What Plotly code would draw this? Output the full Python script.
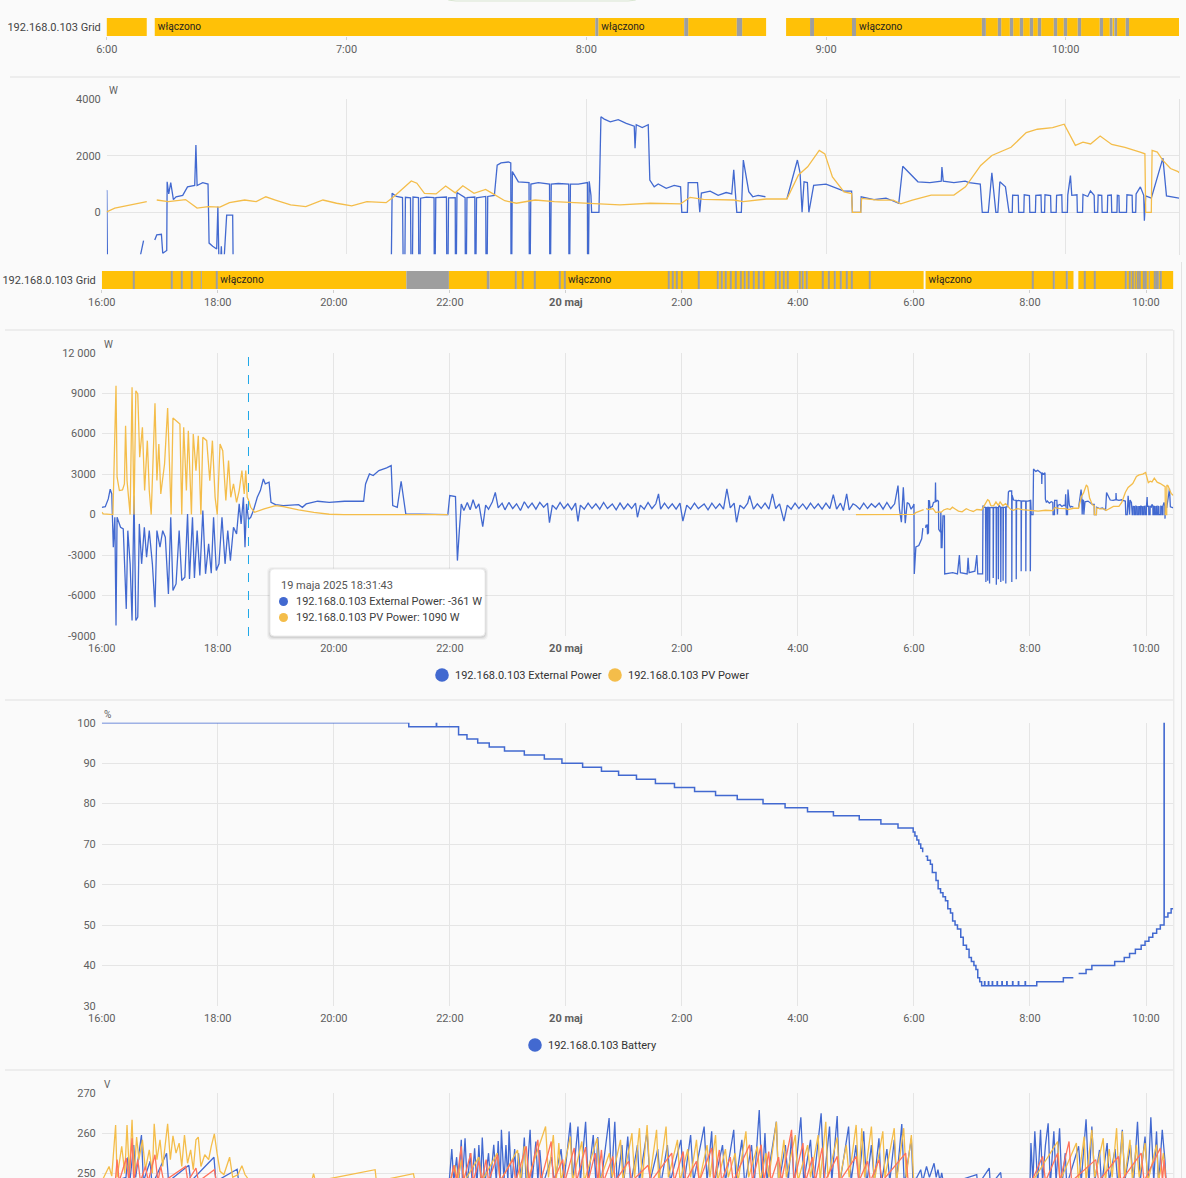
import pandas as pd
import plotly.graph_objects as go

# ---------------------------------------------------------------- data
GRID_NAME = "192.168.0.103 Grid"
EXT_NAME = "192.168.0.103 External Power"
PV_NAME = "192.168.0.103 PV Power"
BAT_NAME = "192.168.0.103 Battery"
STATE_TEXT = {"on": "włączono", "off": "wyłączono"}

NOW = "10:28:20"
HOVER = "18:31:43"
HOVER_LABEL = "19 maja 2025 18:31:43"

# grid switch: (time, state) changes, last one lasts until NOW
grid_states = [
    ("16:00:00", "on"), ("16:32:30", "off"), ("16:33:20", "on"),
    ("17:12:20", "off"), ("17:13:00", "on"), ("17:22:40", "off"), ("17:23:20", "on"),
    ("17:33:00", "off"), ("17:33:40", "on"), ("17:42:40", "off"), ("17:43:20", "on"),
    ("17:58:50", "off"), ("17:59:30", "on"),
    ("21:15:00", "off"), ("21:59:00", "on"),
    ("22:39:00", "off"), ("22:41:00", "on"), ("23:08:00", "off"), ("23:09:00", "on"),
    ("23:15:00", "off"), ("23:16:00", "on"), ("23:27:00", "off"), ("23:28:00", "on"),
    ("23:53:00", "off"), ("23:54:00", "on"), ("23:58:00", "off"), ("23:59:00", "on"),
    ("01:46:00", "off"), ("01:47:00", "on"), ("01:50:00", "off"), ("01:51:00", "on"),
    ("01:54:00", "off"), ("01:55:00", "on"), ("01:59:00", "off"), ("02:00:00", "on"),
    ("02:17:00", "off"), ("02:18:00", "on"),
    ("02:37:00", "off"), ("02:38:00", "on"), ("02:41:00", "off"), ("02:42:00", "on"),
    ("02:45:00", "off"), ("02:46:00", "on"), ("02:50:00", "off"), ("02:51:00", "on"),
    ("02:55:00", "off"), ("02:56:00", "on"), ("03:00:00", "off"), ("03:01:00", "on"),
    ("03:05:00", "off"), ("03:06:00", "on"), ("03:09:00", "off"), ("03:10:00", "on"),
    ("03:14:00", "off"), ("03:15:00", "on"), ("03:19:00", "off"), ("03:20:00", "on"),
    ("03:24:00", "off"), ("03:25:00", "on"),
    ("03:37:00", "off"), ("03:38:00", "on"), ("03:41:00", "off"), ("03:42:00", "on"),
    ("03:45:00", "off"), ("03:46:00", "on"), ("03:49:00", "off"), ("03:50:00", "on"),
    ("04:01:00", "off"), ("04:02:00", "on"), ("04:05:00", "off"), ("04:06:00", "on"),
    ("04:09:00", "off"), ("04:10:00", "on"),
    ("04:25:00", "off"), ("04:26:00", "on"), ("04:31:00", "off"), ("04:32:00", "on"),
    ("04:38:00", "off"), ("04:39:00", "on"), ("04:44:00", "off"), ("04:45:00", "on"),
    ("04:50:00", "off"), ("04:51:00", "on"), ("04:55:00", "off"), ("04:56:00", "on"),
    ("05:14:00", "off"), ("05:15:00", "on"),
    ("06:10:00", "unavailable"), ("06:12:00", "on"),
    ("08:02:15", "off"), ("08:03:00", "on"), ("08:24:30", "off"), ("08:25:30", "on"),
    ("08:37:40", "off"), ("08:39:00", "on"), ("08:45:00", "unavailable"), ("08:50:00", "on"),
    ("08:56:00", "off"), ("08:57:00", "on"), ("09:06:30", "off"), ("09:07:30", "on"),
    ("09:39:00", "off"), ("09:40:00", "on"), ("09:43:00", "off"), ("09:43:50", "on"),
    ("09:46:00", "off"), ("09:46:50", "on"), ("09:48:30", "off"), ("09:49:20", "on"),
    ("09:51:00", "off"), ("09:51:50", "on"), ("09:53:00", "off"), ("09:53:50", "on"),
    ("09:57:00", "off"), ("09:57:50", "on"), ("09:59:30", "off"), ("10:00:20", "on"),
    ("10:03:00", "off"), ("10:03:50", "on"), ("10:08:30", "off"), ("10:09:20", "on"),
    ("10:11:00", "off"), ("10:11:40", "on"), ("10:12:10", "off"), ("10:12:50", "on"),
    ("10:15:00", "off"), ("10:15:50", "on"),
]

# external power, W
ext_power = [
    ("16:00:00", 540), ("16:03:36", 590), ("16:06:42", 1160), ("16:08:42", 1880),
    ("16:10:18", 1530), ("16:11:54", -2420), ("16:13:30", -200), ("16:14:42", -8220),
    ("16:15:48", -200), ("16:19:24", -940), ("16:22:12", -1060), ("16:25:18", -6990),
    ("16:26:54", -1190), ("16:29:18", -3650), ("16:31:18", -7850), ("16:33:18", 1410),
    ("16:35:12", -7850), ("16:37:12", -7600), ("16:38:48", -690), ("16:41:12", -3650),
    ("16:44:00", -940), ("16:46:18", -3160), ("16:49:06", -1190), ("16:52:18", -3650),
    ("16:55:00", -6860), ("16:57:00", -1190), ("17:00:12", -2420), ("17:03:00", -1190),
    ("17:05:42", -1680), ("17:08:54", -5880), ("17:11:18", -200), ("17:13:36", -5630),
    ("17:16:48", -5140), ("17:20:00", -1190), ("17:22:42", -4890), ("17:25:54", -4640),
    ("17:28:42", 50), ("17:30:42", -4770), ("17:33:48", -200), ("17:35:48", -4690),
    ("17:38:36", -1190), ("17:41:24", -4520), ("17:44:30", 300), ("17:47:18", -4390),
    ("17:50:30", -2170), ("17:53:12", -4350), ("17:55:36", -200), ("17:58:24", -4150),
    ("18:01:12", -3650), ("18:04:18", -200), ("18:07:30", -3650), ("18:10:18", -1190),
    ("18:13:00", -3410), ("18:16:12", -940), ("18:19:24", -1430), ("18:22:06", 790),
    ("18:24:06", -690), ("18:26:30", 1280), ("18:28:06", -2420), ("18:29:42", 790),
    ("18:31:43", -361), ("18:34:00", -200), ("18:36:48", 300), ("18:40:48", 1280),
    ("18:44:00", 1780), ("18:47:06", 2640), ("18:49:06", 2270), ("18:53:00", 2400),
    ("18:55:00", 910), ("18:59:42", 740), ("19:07:42", 670), ("19:23:30", 740),
    ("19:27:30", 540), ("19:31:24", 790), ("19:43:18", 990), ("19:55:12", 910),
    ("20:11:00", 990), ("20:30:48", 990), ("20:32:48", 2270), ("20:36:48", 3010),
    ("20:40:42", 2890), ("20:46:36", 3260), ("20:54:36", 3460), ("20:59:18", 3630),
    ("21:00:54", 670), ("21:05:36", 540), ("21:09:36", 2470), ("21:12:24", 790),
    ("21:14:24", 50), ("21:57:54", 0), ("21:59:54", 1410), ("22:05:48", 1330),
    ("22:07:48", -3410), ("22:09:48", -1190), ("22:11:48", 790), ("22:14:30", 300),
    ("22:18:00", 900), ("22:21:00", 350), ("22:24:00", 1100), ("22:27:00", 450),
    ("22:30:00", 800), ("22:34:00", -900), ("22:37:00", 700), ("22:40:00", 400),
    ("22:44:00", 950), ("22:47:00", 1650), ("22:50:00", 500), ("22:54:00", 850),
    ("22:57:00", 350), ("23:01:00", 900), ("23:05:00", 450), ("23:09:00", 800),
    ("23:13:00", 300), ("23:17:00", 950), ("23:21:00", 500), ("23:25:00", 850),
    ("23:29:00", 400), ("23:33:00", 900), ("23:37:00", 550), ("23:41:00", 850),
    ("23:43:00", -600), ("23:46:00", 700), ("23:50:00", 400), ("23:54:00", 900),
    ("23:58:00", 450), ("00:02:00", 800), ("00:06:00", 350), ("00:10:00", 850),
    ("00:12:30", -500), ("00:15:00", 700), ("00:19:00", 400), ("00:23:00", 850),
    ("00:27:00", 450), ("00:31:00", 800), ("00:35:00", 400), ("00:39:00", 900),
    ("00:43:00", 450), ("00:48:00", 790), ("00:52:00", 350), ("00:56:00", 850),
    ("01:00:00", 400), ("01:04:00", 800), ("01:08:00", 450), ("01:12:00", 850),
    ("01:14:00", -200), ("01:17:00", 700), ("01:21:00", 400), ("01:25:00", 900),
    ("01:29:00", 450), ("01:33:00", 800), ("01:35:48", 1530), ("01:38:00", 400),
    ("01:42:00", 850), ("01:46:00", 450), ("01:50:00", 800), ("01:54:00", 400),
    ("01:58:00", 850), ("02:01:00", -490), ("02:05:00", 700), ("02:09:00", 400),
    ("02:13:00", 850), ("02:17:00", 450), ("02:23:00", 790), ("02:27:00", 350),
    ("02:31:00", 850), ("02:35:00", 450), ("02:39:00", 800), ("02:43:00", 400),
    ("02:46:30", 1900), ("02:50:00", 500), ("02:54:00", 850), ("02:56:30", -570),
    ("03:00:00", 700), ("03:04:00", 450), ("03:08:00", 850), ("03:10:00", 1410),
    ("03:14:00", 400), ("03:18:00", 800), ("03:22:00", 450), ("03:26:00", 850),
    ("03:30:00", 400), ("03:33:40", 1530), ("03:37:00", 450), ("03:41:00", 800),
    ("03:45:30", -490), ("03:49:00", 700), ("03:53:00", 400), ("03:57:00", 850),
    ("04:01:00", 450), ("04:05:00", 790), ("04:09:00", 400), ("04:13:00", 850),
    ("04:17:00", 450), ("04:21:00", 800), ("04:25:00", 400), ("04:29:00", 850),
    ("04:33:00", 450), ("04:36:36", 1480), ("04:40:00", 400), ("04:44:00", 850),
    ("04:47:00", 300), ("04:50:24", 1530), ("04:53:00", 350), ("04:57:00", 800),
    ("05:00:00", 670), ("05:04:00", 400), ("05:08:00", 850), ("05:12:00", 450),
    ("05:16:00", 800), ("05:20:00", 540), ("05:24:00", 850), ("05:28:00", 400),
    ("05:32:00", 900), ("05:36:00", 450), ("05:40:00", 800), ("05:43:30", 2150),
    ("05:45:00", 400), ("05:47:00", -570), ("05:49:00", 2020), ("05:51:00", -640),
    ("05:53:00", 900), ("05:55:00", 790), ("05:57:00", 400), ("05:59:00", 600),
    ("06:00:00", 780), ("06:00:20", -4400), ("06:02:00", -2400), ("06:05:00", -2300),
    ("06:08:00", -1800), ("06:09:12", -1000), ("06:10:00", None), ("06:12:00", -980),
    ("06:12:30", -800), ("06:13:40", -780), ("06:14:00", -1450), ("06:15:00", -1350),
    ("06:15:06", 1080), ("06:15:30", 650), ("06:16:00", 1050), ("06:16:40", 450),
    ("06:17:20", 550), ("06:19:00", 600), ("06:20:12", 900), ("06:22:00", 950),
    ("06:22:18", 2380), ("06:22:36", 950), ("06:24:00", 1050), ("06:25:20", 1000),
    ("06:25:36", -1090), ("06:26:30", -1200), ("06:27:30", -1300), ("06:27:48", 200),
    ("06:28:10", -2500), ("06:28:40", -1200), ("06:29:00", -2500), ("06:30:00", -100),
    ("06:31:30", -100), ("06:31:48", -4400), ("06:40:00", -4300), ("06:45:00", -4400),
    ("06:47:00", -3000), ("06:48:00", -4300), ("06:55:00", -4400), ("06:56:00", -3200),
    ("06:57:00", -4300), ("07:03:00", -4200), ("07:05:00", -3000), ("07:06:00", -4400),
    ("07:11:00", -4400), ("07:11:24", 670), ("07:12:30", 560), ("07:14:00", 520),
    ("07:14:24", -5000), ("07:14:44", 530), ("07:16:00", 510), ("07:16:18", -4900),
    ("07:16:38", 540), ("07:18:00", 520), ("07:18:12", -5100), ("07:18:32", 500),
    ("07:20:00", 540), ("07:21:54", 520), ("07:22:00", -4700), ("07:22:20", 520),
    ("07:25:00", 540), ("07:25:12", -5200), ("07:25:32", 510), ("07:27:12", 520),
    ("07:27:18", -4800), ("07:27:38", 700), ("07:29:40", 520), ("07:29:48", -5000),
    ("07:30:08", 520), ("07:32:06", 540), ("07:32:12", -4900), ("07:32:32", 510),
    ("07:34:50", 560), ("07:35:00", -5100), ("07:35:20", 560), ("07:37:00", 600),
    ("07:37:42", 1670), ("07:38:40", 1750), ("07:40:30", 1780), ("07:41:06", 1750),
    ("07:41:12", -5000), ("07:41:30", 1440), ("07:43:00", 1080), ("07:45:40", 1050),
    ("07:45:48", -4800), ("07:46:08", 1000), ("07:48:00", 1050), ("07:50:48", 1000),
    ("07:50:54", -4200), ("07:51:14", 1000), ("07:53:00", 1020), ("07:55:36", 1000),
    ("07:55:42", -4200), ("07:56:02", 1000), ("07:58:00", 1000), ("08:00:18", 1050),
    ("08:00:24", -4200), ("08:00:44", 1100), ("08:01:10", 600), ("08:01:20", 0),
    ("08:03:10", 0), ("08:03:40", 3380), ("08:04:30", 3300), ("08:06:00", 3200),
    ("08:08:00", 3280), ("08:10:00", 3150), ("08:12:00", 3050), ("08:12:12", 2270),
    ("08:12:30", 3100), ("08:14:00", 3000), ("08:15:30", 3100), ("08:15:54", 1140),
    ("08:17:00", 900), ("08:18:00", 1000), ("08:20:00", 850), ("08:22:00", 950),
    ("08:23:36", 900), ("08:23:54", 0), ("08:25:18", 0), ("08:25:30", 1050),
    ("08:27:50", 1050), ("08:28:00", 680), ("08:28:24", 0), ("08:28:48", 680),
    ("08:31:00", 750), ("08:33:00", 600), ("08:35:00", 700), ("08:36:24", 650),
    ("08:36:54", 1500), ("08:37:40", 0), ("08:38:48", 0), ("08:39:18", 1850),
    ("08:40:40", 730), ("08:41:40", 550), ("08:43:00", 600), ("08:44:50", 550),
    ("08:45:00", None), ("08:50:12", 470), ("08:52:50", 1850), ("08:53:30", 1400),
    ("08:54:00", 0), ("08:54:30", 1080), ("08:55:20", 1050), ("08:55:42", 0),
    ("08:56:54", 950), ("09:00:00", 1000), ("09:02:00", 900), ("09:04:30", 750),
    ("09:06:24", 750), ("09:06:36", 0), ("09:08:40", 0), ("09:08:48", 550),
    ("09:12:00", 450), ("09:15:00", 500), ("09:16:48", 400), ("09:18:12", 320),
    ("09:19:12", 1630), ("09:21:36", 1300), ("09:23:00", 1080), ("09:26:00", 1050),
    ("09:28:50", 1100), ("09:29:00", 1600), ("09:29:20", 1100), ("09:32:00", 1050),
    ("09:34:50", 1100), ("09:35:48", 1050), ("09:38:36", 1000), ("09:39:06", 0),
    ("09:40:36", 0), ("09:41:30", 1400), ("09:42:30", 0), ("09:43:00", 0),
    ("09:43:30", 1080), ("09:44:54", 900), ("09:45:48", 0), ("09:46:36", 0),
    ("09:46:42", 610), ("09:48:06", 600), ("09:48:12", 0), ("09:49:30", 0),
    ("09:49:36", 620), ("09:50:54", 590), ("09:51:00", 0), ("09:52:24", 0),
    ("09:52:30", 600), ("09:53:48", 610), ("09:53:54", 0), ("09:54:42", 0),
    ("09:54:48", 620), ("09:56:12", 590), ("09:56:18", 0), ("09:57:36", 0),
    ("09:57:42", 600), ("09:59:00", 620), ("09:59:06", 0), ("10:00:24", 0),
    ("10:00:30", 610), ("10:01:10", 1300), ("10:01:30", 600), ("10:02:48", 620),
    ("10:02:54", 0), ("10:04:12", 0), ("10:04:18", 630), ("10:05:30", 560),
    ("10:06:10", 760), ("10:07:06", 600), ("10:07:12", 0), ("10:08:00", 0),
    ("10:08:06", 610), ("10:09:00", 600), ("10:09:06", 0), ("10:10:24", 0),
    ("10:10:30", 600), ("10:11:24", 610), ("10:11:30", 0), ("10:12:48", 0),
    ("10:12:54", 600), ("10:13:18", 590), ("10:13:24", 0), ("10:15:12", 0),
    ("10:15:18", 620), ("10:16:36", 600), ("10:16:42", 0), ("10:17:30", 0),
    ("10:17:36", 650), ("10:18:40", 900), ("10:19:30", 600), ("10:19:40", -300),
    ("10:20:00", 580), ("10:21:24", 500), ("10:24:18", 1920), ("10:25:12", 580),
    ("10:27:00", 520), ("10:28:20", 500),
]

# PV power, W
pv_power = [
    ("16:00:00", 170), ("16:01:36", 50), ("16:11:30", 0), ("16:13:30", 6200),
    ("16:14:42", 9550), ("16:15:48", 2770), ("16:18:12", 1780), ("16:21:24", 1830),
    ("16:23:24", 2270), ("16:24:36", 6590), ("16:26:06", 2520), ("16:29:18", 0),
    ("16:31:18", 9430), ("16:33:18", 0), ("16:35:12", 9180), ("16:37:12", 8940),
    ("16:39:12", 4250), ("16:42:00", 6470), ("16:44:18", 1780), ("16:47:06", 5480),
    ("16:49:06", 1780), ("16:51:06", 0), ("16:53:06", 3750), ("16:55:00", 8250),
    ("16:57:00", 2520), ("16:59:00", 5230), ("17:01:00", 1530), ("17:04:54", 3750),
    ("17:08:06", 7900), ("17:09:42", 3750), ("17:11:42", 0), ("17:13:36", 7160),
    ("17:16:48", 6960), ("17:20:48", 6720), ("17:22:42", 0), ("17:24:42", 6470),
    ("17:27:30", 1780), ("17:29:30", 6220), ("17:32:42", 0), ("17:34:36", 5970),
    ("17:37:24", 3260), ("17:39:48", 5850), ("17:42:30", 0), ("17:44:30", 5730),
    ("17:48:30", 5480), ("17:51:42", 2520), ("17:54:24", 5480), ("17:57:12", 1280),
    ("17:59:24", 0), ("18:02:18", 5230), ("18:05:06", 4740), ("18:08:18", 1040),
    ("18:11:06", 4000), ("18:13:24", 1280), ("18:16:12", 2270), ("18:19:24", 910),
    ("18:22:06", 1780), ("18:24:54", 3260), ("18:27:18", 1530), ("18:28:54", 3260),
    ("18:30:24", 1280), ("18:31:43", 1090), ("18:34:00", 540), ("18:38:00", 170),
    ("18:47:54", 420), ("18:59:42", 670), ("19:07:42", 590), ("19:23:30", 350),
    ("19:39:18", 170), ("19:55:12", 25), ("20:10:00", 0), ("21:57:54", 0),
    ("22:00:00", None), ("05:00:00", 0), ("05:30:00", 10), ("05:55:00", 15),
    ("06:00:00", 20), ("06:02:00", 150), ("06:05:48", 260), ("06:10:00", 375),
    ("06:11:00", None), ("06:12:30", 435), ("06:15:24", 375), ("06:19:42", 450),
    ("06:22:36", 150), ("06:25:24", 200), ("06:28:18", 180), ("06:30:42", 340),
    ("06:34:30", 435), ("06:37:24", 375), ("06:39:48", 550), ("06:42:12", 435),
    ("06:46:00", 260), ("06:49:48", 200), ("06:54:06", 435), ("06:57:30", 320),
    ("07:01:18", 230), ("07:05:06", 375), ("07:09:54", 340), ("07:11:48", 550),
    ("07:13:48", 790), ("07:16:12", 1110), ("07:17:36", 1030), ("07:19:30", 670),
    ("07:22:24", 650), ("07:24:48", 930), ("07:27:12", 690), ("07:29:06", 940),
    ("07:31:54", 670), ("07:34:48", 810), ("07:36:42", 650), ("07:39:36", 410),
    ("07:42:30", 320), ("07:47:12", 435), ("07:52:00", 375), ("07:56:48", 340),
    ("08:00:48", 320), ("08:08:24", 260), ("08:16:00", 320), ("08:23:36", 300),
    ("08:26:00", 530), ("08:29:18", 460), ("08:36:54", 435), ("08:39:18", 375),
    ("08:45:00", 470), ("08:50:12", 470), ("08:53:06", 1320), ("08:55:24", 1610),
    ("08:58:18", 2190), ("08:59:42", 2070), ("09:01:36", 1250), ("09:04:30", 720),
    ("09:06:24", 660), ("09:06:36", 0), ("09:08:42", 0), ("09:08:54", 490),
    ("09:13:00", 430), ("09:16:48", 430), ("09:18:42", 300), ("09:21:36", 430),
    ("09:26:18", 610), ("09:32:00", 610), ("09:34:54", 900), ("09:38:42", 1660),
    ("09:41:30", 2010), ("09:46:18", 2300), ("09:50:06", 2820), ("09:52:54", 2940),
    ("09:56:42", 3000), ("09:59:36", 3120), ("10:02:24", 2370), ("10:04:18", 2480),
    ("10:06:12", 2420), ("10:08:36", 2700), ("10:11:30", 2400), ("10:14:48", 2300),
    ("10:18:36", 2130), ("10:19:48", 2070), ("10:20:00", 0), ("10:21:24", 0),
    ("10:21:36", 2190), ("10:22:54", 2130), ("10:24:18", 1840), ("10:26:12", 1550),
    ("10:28:06", 1440), ("10:28:20", 1400),
]

# battery state of charge, %
battery = [
    ("16:00:00", 100), ("21:17:30", 99), ("21:46:00", 100), ("21:46:20", 99),
    ("22:09:00", 97), ("22:17:42", 96), ("22:28:48", 95), ("22:40:42", 94),
    ("22:56:30", 93), ("23:17:00", 92), ("23:37:42", 91), ("23:55:54", 90),
    ("00:17:18", 89), ("00:36:48", 88), ("00:54:30", 87), ("01:13:00", 86),
    ("01:32:36", 85), ("01:52:18", 84), ("02:13:06", 83), ("02:34:48", 82),
    ("02:57:12", 81), ("03:23:54", 80), ("03:46:42", 79), ("04:09:54", 78),
    ("04:36:42", 77), ("05:03:24", 76), ("05:25:48", 75), ("05:43:30", 74),
    ("05:59:12", 73), ("06:01:00", 72), ("06:03:00", 71), ("06:05:00", 70),
    ("06:07:00", 69), ("06:09:00", 68), ("06:10:00", None), ("06:12:00", 67),
    ("06:14:00", 66), ("06:17:00", 65), ("06:19:00", 63), ("06:22:48", 61),
    ("06:25:00", 59), ("06:27:30", 58), ("06:30:00", 57), ("06:32:36", 56),
    ("06:35:00", 54), ("06:37:48", 53), ("06:40:00", 51), ("06:42:30", 50),
    ("06:45:00", 49), ("06:48:24", 47), ("06:51:00", 45), ("06:54:18", 44),
    ("06:57:00", 42), ("06:59:24", 41), ("07:02:00", 40), ("07:04:06", 39),
    ("07:06:00", 37), ("07:08:00", 36), ("07:10:00", 35),
    ("07:13:00", 36), ("07:13:20", 35), ("07:17:00", 36), ("07:17:20", 35),
    ("07:21:00", 36), ("07:21:20", 35), ("07:26:00", 36), ("07:26:20", 35),
    ("07:31:00", 36), ("07:31:20", 35), ("07:36:00", 36), ("07:36:20", 35),
    ("07:42:00", 36), ("07:42:20", 35), ("07:48:00", 36), ("07:48:20", 35),
    ("07:55:00", 36), ("07:55:20", 35),
    ("08:07:00", 36), ("08:34:30", 37), ("08:44:50", 37), ("08:45:00", None),
    ("08:50:18", 38), ("08:58:00", 39), ("09:04:00", 40), ("09:27:36", 41),
    ("09:37:30", 42), ("09:43:00", 43), ("09:49:00", 44), ("09:55:00", 45),
    ("09:59:00", 46), ("10:03:00", 47), ("10:07:00", 48), ("10:11:00", 49),
    ("10:14:48", 50), ("10:18:40", 51), ("10:18:42", 100), ("10:18:50", 52),
    ("10:22:40", 53), ("10:26:00", 54), ("10:28:20", 54),
]

# phase voltages, V
volt_l1 = [
    ("16:00", 247), ("16:25", 249), ("16:27", 254), ("16:29", 248), ("16:33", 257),
    ("16:35", 249), ("16:41", 259.5), ("16:43", 248), ("16:50", 253), ("16:52", 247),
    ("17:07", 255), ("17:09", 248), ("17:30", 252), ("17:32", 248), ("17:56", 254),
    ("17:58", 248), ("18:20", 251), ("18:22", 247), ("21:59", 247),
    ("22:02", 256), ("22:04", 248), ("22:07", 254), ("22:09", 247), ("22:11:48", 258.3),
    ("22:13", 248), ("22:15:42", 258.7), ("22:18", 247), ("22:21", 255), ("22:23", 248),
    ("22:25:36", 256.2), ("22:28", 247), ("22:30", 257), ("22:32", 248), ("22:33:30", 258.9),
    ("22:36", 247), ("22:40", 255), ("22:42", 248), ("22:45:24", 257.1), ("22:48", 248),
    ("22:50", 258), ("22:52", 247), ("22:53:18", 260.8), ("22:56", 248), ("22:58", 257),
    ("23:00", 248), ("23:01:12", 260.4), ("23:04", 247), ("23:07", 256), ("23:09", 248),
    ("23:11", 255), ("23:14", 248), ("23:17", 258.9), ("23:19", 247), ("23:23", 260.8),
    ("23:25", 248), ("23:29", 257.9), ("23:31", 248), ("23:33", 255.8), ("23:36", 247),
    ("23:45", 254), ("23:48", 248), ("23:55", 256), ("23:58", 248), ("00:04:36", 262.6),
    ("00:07", 248), ("00:12:30", 261.6), ("00:15", 248), ("00:20:24", 262.8), ("00:23", 248),
    ("00:28:18", 259.5), ("00:31", 248), ("00:33", 259), ("00:36", 247), ("00:44:42", 263.7),
    ("00:47", 248), ("00:50:36", 262.8), ("00:53", 247), ("00:58", 257), ("01:00", 248),
    ("01:04", 259.1), ("01:07", 247), ("01:14", 257), ("01:16", 248), ("01:24", 260.4),
    ("01:27", 248), ("01:35", 256), ("01:38", 247), ("01:45", 257), ("01:48", 248),
    ("01:59", 258.3), ("02:02", 247), ("02:09", 259.5), ("02:12", 248), ("02:23", 261.6),
    ("02:26", 248), ("02:30:48", 260.4), ("02:33", 247), ("02:42", 257), ("02:45", 248),
    ("02:53:36", 260.8), ("02:56", 248), ("03:02", 258.3), ("03:05", 247), ("03:12", 257),
    ("03:15", 248), ("03:20", 265.7), ("03:23", 247), ("03:25:54", 260), ("03:28", 248),
    ("03:37:42", 262.8), ("03:40", 247), ("03:47", 257), ("03:50", 248), ("03:53:24", 259.1),
    ("03:56", 247), ("04:03", 263.9), ("04:06", 248), ("04:13", 258.3), ("04:16", 247),
    ("04:24", 264.9), ("04:27", 248), ("04:32:42", 261.6), ("04:35", 248), ("04:40:36", 264.2),
    ("04:43", 247), ("04:52:24", 261.6), ("04:55", 248), ("05:00", 257), ("05:03", 248),
    ("05:08", 260.4), ("05:11", 247), ("05:16", 257), ("05:19", 248), ("05:23:48", 258.7),
    ("05:26", 247), ("05:32", 256), ("05:35", 248), ("05:39:36", 258.3), ("05:42", 248),
    ("05:47:24", 262.2), ("05:50", 247), ("05:57:18", 258.7), ("05:59", 248), ("06:03", 249),
    ("06:07", 250.9), ("06:09", 248), ("06:13", 251.7), ("06:16", 249), ("06:20:48", 252.5),
    ("06:23", 249), ("06:24:48", 250.9), ("06:27", 248), ("06:28:42", 250.1), ("06:31", 247),
    ("07:04:54", 249.7), ("07:06", 247), ("07:17:54", 251.3), ("07:19", 247),
    ("07:29:42", 250.2), ("07:31", 247), ("08:00", 247), ("08:01", 257.5), ("08:03", 248),
    ("08:05", 260.4), ("08:08", 247), ("08:10:54", 260.8), ("08:13", 248), ("08:16", 257),
    ("08:18:48", 262.4), ("08:21", 247), ("08:24:42", 260.4), ("08:27", 248),
    ("08:30:36", 261.2), ("08:33", 247), ("08:36:30", 255), ("08:38", 247),
    ("08:50:18", 256.7), ("08:53", 248), ("08:58", 263.4), ("09:01", 247), ("09:04", 261.6),
    ("09:07", 248), ("09:11:54", 255.8), ("09:14", 247), ("09:19:48", 257.5), ("09:22", 248),
    ("09:28", 256), ("09:31", 247), ("09:35:30", 260.8), ("09:38", 248), ("09:44", 257),
    ("09:47", 247), ("09:51:12", 262.8), ("09:54", 248), ("09:59", 259.1), ("10:02", 247),
    ("10:05", 263.9), ("10:08", 248), ("10:10:54", 260.4), ("10:13", 247),
    ("10:16:48", 260.8), ("10:19:30", 253.4), ("10:21", 247), ("10:28:20", 247),
]

volt_l2 = [
    ("16:00", 248), ("16:05:36", 250.9), ("16:07:30", 251.7), ("16:10:18", 249.3),
    ("16:14:18", 262), ("16:15:48", 249), ("16:20:36", 256.7), ("16:23:48", 250),
    ("16:26:06", 262), ("16:28:30", 249.7), ("16:31:18", 263.3), ("16:33:18", 249),
    ("16:36", 259), ("16:38:24", 253.4), ("16:42", 258.3), ("16:45:06", 250.9),
    ("16:49:06", 255.8), ("16:52:18", 250), ("16:54:12", 262.3), ("16:57", 253.4),
    ("17:00:12", 258.3), ("17:03", 251.7), ("17:08:06", 262.3), ("17:10:54", 253.4),
    ("17:13:36", 259.3), ("17:16:48", 255), ("17:20", 257.5), ("17:22:42", 251.7),
    ("17:25:30", 259.5), ("17:28:42", 252.5), ("17:31:54", 255.8), ("17:34:36", 250.9),
    ("17:37:24", 258.3), ("17:39:48", 259), ("17:42:30", 251.7), ("17:46:30", 254.6),
    ("17:50:30", 253.4), ("17:53:12", 256.7), ("17:56:24", 259.8), ("17:59:12", 255),
    ("18:02:18", 250.5), ("18:06:18", 249.7), ("18:12:12", 254), ("18:15:24", 249),
    ("18:20:54", 249.7), ("18:24:54", 251.9), ("18:28:06", 249.7), ("18:32", 248.4),
    ("19:37", 248), ("19:39", 249.9), ("19:41", 248), ("20:42:42", 250.9), ("20:44", 248),
    ("21:22:18", 249.9), ("21:24", 248), ("22:00", 248),
    ("22:05", 252), ("22:08", 248), ("22:12", 253.4), ("22:15", 248), ("22:30", 254),
    ("22:33", 248), ("22:49", 255), ("22:52", 248), ("23:10", 255.8), ("23:13", 248),
    ("23:17", 256.7), ("23:20", 248), ("23:39", 261.6), ("23:42", 249), ("23:47", 259.5),
    ("23:50", 248), ("23:52:42", 257.5), ("23:55", 248), ("00:04:36", 259.1), ("00:07", 248),
    ("00:16:30", 257.9), ("00:19", 248), ("00:32:18", 258.7), ("00:35", 248), ("00:45", 255),
    ("00:48", 249), ("00:56:30", 258.3), ("00:59", 248), ("01:08:18", 260), ("01:11", 249),
    ("01:16:06", 261.2), ("01:19", 248), ("01:24", 262), ("01:27", 249), ("01:33:48", 260.8),
    ("01:36", 248), ("01:43:36", 261.6), ("01:46", 249), ("01:55:24", 258.3), ("01:58", 248),
    ("02:06", 256), ("02:09", 249), ("02:15:06", 258.3), ("02:18", 248), ("02:26", 257),
    ("02:29", 249), ("02:34:48", 259.5), ("02:37", 248), ("02:45", 256), ("02:48", 249),
    ("02:55", 255), ("02:58", 248), ("03:06:12", 260.4), ("03:09", 249), ("03:18", 256.7),
    ("03:21", 248), ("03:27", 255), ("03:30", 249), ("03:37:42", 262.8), ("03:40", 248),
    ("03:45:30", 258.3), ("03:48", 249), ("03:57:18", 259.5), ("04:00", 248), ("04:10", 257),
    ("04:13", 249), ("04:20:54", 259.5), ("04:23", 248), ("04:28:48", 262.8), ("04:31", 249),
    ("04:40:36", 258.9), ("04:43", 248), ("04:50", 257), ("04:53", 249), ("05:00:12", 262),
    ("05:03", 248), ("05:06", 261.2), ("05:09", 249), ("05:16", 261.6), ("05:19", 248),
    ("05:27:48", 260.4), ("05:30", 249), ("05:39:36", 261.2), ("05:42", 248),
    ("05:49:24", 261.2), ("05:52", 249), ("05:57:18", 259.5), ("06:00", 247), ("08:00", 247),
    ("08:28:36", 257.9), ("08:31", 248), ("08:48", 257.5), ("08:50", 248), ("08:56", 259.1),
    ("08:58", 248), ("09:04", 260.8), ("09:07", 249), ("09:15:48", 258.7), ("09:18", 248),
    ("09:22", 256), ("09:25", 249), ("09:29:36", 261.2), ("09:32", 248), ("09:35:30", 260.4),
    ("09:38", 249), ("09:43:24", 258.3), ("09:46", 248), ("09:50", 257), ("09:53", 249),
    ("09:59", 257.5), ("10:02", 248), ("10:10:54", 257.1), ("10:13", 248), ("10:18", 255),
    ("10:21", 247), ("10:28:20", 247),
]

volt_l3 = [
    ("16:00", 247), ("16:14", 248), ("16:15:48", 253.4), ("16:18", 248), ("16:25:18", 253.8),
    ("16:28", 248), ("16:31:18", 258.7), ("16:33", 248), ("16:37:12", 253.4), ("16:40", 248),
    ("16:45:06", 251.7), ("16:48", 248), ("16:55", 254.6), ("16:58", 248), ("17:01", 251.7),
    ("17:04", 248), ("17:26:42", 251.7), ("17:29", 248), ("17:37:24", 251.3), ("17:40", 248),
    ("17:56:24", 250.9), ("17:59", 247), ("22:00", 247), ("22:04", 252), ("22:07", 248),
    ("22:11:48", 256.7), ("22:14", 248), ("22:21:42", 255), ("22:24", 248), ("22:30", 253),
    ("22:33", 248), ("22:37:30", 253.4), ("22:40", 248), ("22:49:24", 254.6), ("22:52", 248),
    ("23:05:12", 253.4), ("23:08", 248), ("23:19", 256.7), ("23:22", 248), ("23:31", 258.3),
    ("23:34", 248), ("23:44:48", 257.9), ("23:47", 248), ("23:56:42", 253.4), ("23:59", 248),
    ("00:08:36", 256.3), ("00:11", 248), ("00:20:24", 256.5), ("00:23", 248), ("00:30:18", 255),
    ("00:33", 248), ("00:36:48", 255.8), ("00:39", 248), ("00:48:36", 254.2), ("00:51", 248),
    ("01:05", 253), ("01:08", 248), ("01:25", 252), ("01:28", 248), ("01:49:30", 255),
    ("01:52", 248), ("02:01:18", 255.4), ("02:04", 248), ("02:15", 253), ("02:18", 248),
    ("02:30:48", 256.3), ("02:33", 248), ("02:38:42", 255.8), ("02:41", 248), ("02:50", 254),
    ("02:53", 248), ("03:10", 257.1), ("03:13", 248), ("03:22", 257.1), ("03:25", 248),
    ("03:29:48", 255.4), ("03:32", 248), ("03:40", 254), ("03:43", 248), ("03:53:24", 260.8),
    ("03:56", 248), ("04:05:12", 257.5), ("04:08", 248), ("04:15", 254), ("04:18", 248),
    ("04:25", 256.3), ("04:28", 248), ("04:40:36", 254.2), ("04:43", 248), ("05:00:12", 254.2),
    ("05:03", 248), ("05:12", 253), ("05:15", 248), ("05:24", 253.4), ("05:27", 248),
    ("05:51:24", 255), ("05:54", 248), ("05:59", 247), ("08:00", 247), ("08:13", 254.2),
    ("08:16", 248), ("08:28:36", 255), ("08:31", 248), ("08:40:24", 257.9), ("08:43", 248),
    ("09:08", 253.4), ("09:11", 248), ("09:31:30", 254.2), ("09:34", 248), ("09:55", 255),
    ("09:58", 248), ("10:14:48", 256.3), ("10:17", 248), ("10:18:42", 253.4), ("10:21", 247),
    ("10:28:20", 247),
]

# x tick positions (clock time) and their labels
ticks_4h = ["06:00", "07:00", "08:00", "09:00", "10:00"]
ticks_4h_text = ["6:00", "7:00", "8:00", "9:00", "10:00"]
ticks_18h = ["16:00", "18:00", "20:00", "22:00", "00:00", "02:00", "04:00", "06:00", "08:00", "10:00"]
ticks_18h_text = ["16:00", "18:00", "20:00", "22:00", "<b>20 maj</b>", "2:00", "4:00", "6:00", "8:00", "10:00"]

power_ticks = [-9000, -6000, -3000, 0, 3000, 6000, 9000, 12000]
power_ticks_text = ["-9000", "-6000", "-3000", "0", "3000", "6000", "9000", "12 000"]

# ---------------------------------------------------------------- style
W, H = 1186, 1178
BLUE = "#4269d0"
YELLOW = "#f4bd4a"
RED = "#ff725c"
ON = "#ffc107"
OFF = "#9e9e9e"
GRID = "#e5e5e5"
TICK = "#5f5f5f"
BG = "#fafafa"


def ts(s):
    day = "2025-05-19" if int(s.split(":")[0]) >= 16 else "2025-05-20"
    return pd.Timestamp(f"{day} {s}")


def px(x):
    return x / W


def py(y):
    return 1 - y / H


def xdom(a, b):
    return [px(a), px(b)]


def ydom(top, bottom):
    return [py(bottom), py(top)]


fig = go.Figure()


def add_timeline(xa, ya, start, label_min):
    segs = []
    for i, (t0, state) in enumerate(grid_states):
        t1 = grid_states[i + 1][0] if i + 1 < len(grid_states) else NOW
        segs.append((ts(t0), ts(t1), state))
    for state, color in (("on", ON), ("off", OFF)):
        rows = [s for s in segs if s[2] == state and s[1] > ts(start)]
        dur = [(b - a).total_seconds() * 1000 for a, b, _ in rows]
        text = [STATE_TEXT[state] if d / 60000 >= label_min and a >= ts(start) else ""
                for d, (a, _, _) in zip(dur, rows)]
        fig.add_trace(go.Bar(
            base=[a for a, _, _ in rows], x=dur, y=[GRID_NAME] * len(rows),
            orientation="h", width=1, marker=dict(color=color, line_width=0),
            text=text, textposition="inside", insidetextanchor="start", textangle=0,
            textfont=dict(size=11, color="#1f1f1f"), cliponaxis=True,
            xaxis=xa, yaxis=ya, showlegend=False, hoverinfo="skip"))


def add_line(data, xa, ya, color, width=1.3, shape="linear"):
    fig.add_trace(go.Scatter(
        x=[ts(t) for t, _ in data], y=[v for _, v in data], mode="lines",
        line=dict(color=color, width=width, shape=shape), connectgaps=False,
        xaxis=xa, yaxis=ya, showlegend=False, hoverinfo="skip"))


# timeline + power chart for the last 4 hours
add_timeline("x", "y", "06:00:00", 18)
add_line(ext_power, "x2", "y2", BLUE)
add_line(pv_power, "x2", "y2", YELLOW)

# timeline, power, battery and voltage for the last 18 hours
add_timeline("x3", "y3", "16:00:00", 75)
add_line(ext_power, "x4", "y4", BLUE)
add_line(pv_power, "x4", "y4", YELLOW)
add_line(battery, "x5", "y5", BLUE, width=1.5, shape="hv")
add_line(volt_l1, "x6", "y6", BLUE, width=1.3)
add_line(volt_l2, "x6", "y6", YELLOW, width=1.3)
add_line(volt_l3, "x6", "y6", RED, width=1.3)

day2 = [ts("06:00:00"), ts(NOW)]
full = [ts("16:00:00"), ts(NOW)]

tick_font = dict(size=11, color=TICK)


def time_axis(dom, rng, tv, tt, anchor, grid=True, labels=True, marks=False):
    return dict(domain=dom, range=rng, type="date", tickvals=[ts(t) for t in tv],
                ticktext=tt, showgrid=grid, gridcolor=GRID, gridwidth=1,
                zeroline=False, showline=False, showticklabels=labels,
                ticks="outside", ticklen=3 if marks else 2,
                tickcolor="#d0d0d0" if marks else "rgba(0,0,0,0)",
                tickfont=tick_font, anchor=anchor, automargin=False, fixedrange=True)


def value_axis(dom, rng, tv, tt, anchor):
    return dict(domain=dom, range=rng, tickvals=tv, ticktext=tt, showgrid=True,
                gridcolor=GRID, gridwidth=1.3, zeroline=False, showline=False,
                ticks="", ticklabelstandoff=5, tickfont=tick_font, anchor=anchor,
                ticklabeloverflow="allow", automargin=False, fixedrange=True)


def state_axis(dom, anchor):
    return dict(domain=dom, type="category", range=[-0.5, 0.5], showgrid=False,
                zeroline=False, ticks="", ticklabelstandoff=5, anchor=anchor,
                tickfont=dict(size=11, color="#444444"), automargin=False,
                fixedrange=True)


X4 = xdom(106.8, 1179)
X18 = xdom(101.8, 1173.4)

fig.update_layout(
    width=W, height=H, margin=dict(l=0, r=0, t=0, b=0, autoexpand=False),
    paper_bgcolor=BG, plot_bgcolor=BG, barmode="overlay", hovermode=False,
    showlegend=False,
    font=dict(family="Roboto, sans-serif", size=11, color=TICK),
    xaxis=time_axis(X4, day2, ticks_4h, ticks_4h_text, "y", grid=False, marks=True),
    yaxis=state_axis(ydom(18, 36), "x"),
    xaxis2=time_axis(X4, day2, ticks_4h, ticks_4h_text, "y2", labels=False),
    yaxis2=value_axis(ydom(99.3, 254.3), [-1487, 4000], [0, 2000, 4000],
                      ["0", "2000", "4000"], "x2"),
    xaxis3=time_axis(X18, full, ticks_18h, ticks_18h_text, "y3", grid=False, marks=True),
    yaxis3=state_axis(ydom(271, 289), "x3"),
    xaxis4=time_axis(X18, full, ticks_18h, ticks_18h_text, "y4"),
    yaxis4=value_axis(ydom(352.7, 636), [-9000, 12000], power_ticks, power_ticks_text, "x4"),
    xaxis5=time_axis(X18, full, ticks_18h, ticks_18h_text, "y5"),
    yaxis5=value_axis(ydom(722.7, 1006), [30, 100], list(range(30, 101, 10)),
                      [str(v) for v in range(30, 101, 10)], "x5"),
    xaxis6=time_axis(X18, full, ticks_18h, ticks_18h_text, "y6", labels=False),
    yaxis6=value_axis(ydom(1092.7, 1178), [248.84, 270], [250, 260, 270],
                      ["250", "260", "270"], "x6"),
)

# unit labels above the value axes
for xa, ya, unit in (("x2", "y2", "W"), ("x4", "y4", "W"), ("x5", "y5", "%"), ("x6", "y6", "V")):
    fig.add_annotation(text=unit, xref=f"{xa} domain", yref=f"{ya} domain", x=0, y=1,
                       xanchor="left", yanchor="middle", xshift=0, yshift=8.5,
                       showarrow=False, font=dict(size=10, color=TICK))

# card separators and container edges
line_kw = dict(type="line", xref="paper", yref="paper")
for y, x0, x1 in ((77, 10, 1180), (330, 5, 1173), (700, 5, 1173), (1070, 5, 1173)):
    fig.add_shape(**line_kw, x0=px(x0), x1=px(x1), y0=py(y), y1=py(y),
                  line=dict(color="#e0e0e0", width=1))
for x, y0, y1 in ((1179.5, 99, 255), (1173.8, 330, 1178), (1181.5, 262, 1178)):
    fig.add_shape(**line_kw, x0=px(x), x1=px(x), y0=py(y0), y1=py(y1),
                  line=dict(color="#e3e3e3", width=1))
# edge of the button peeking in at the top of the page
fig.add_shape(type="path", xref="paper", yref="paper", line=dict(color="#d9e6d2", width=1),
              path=f"M {px(440)},{py(-12)} Q {px(440)},{py(1)} {px(456)},{py(1)} "
                   f"L {px(628)},{py(1)} Q {px(644)},{py(1)} {px(644)},{py(-12)}")


def rounded(x0, y0, x1, y1, r):
    return (f"M {px(x0 + r)},{py(y0)} L {px(x1 - r)},{py(y0)} "
            f"Q {px(x1)},{py(y0)} {px(x1)},{py(y0 + r)} L {px(x1)},{py(y1 - r)} "
            f"Q {px(x1)},{py(y1)} {px(x1 - r)},{py(y1)} L {px(x0 + r)},{py(y1)} "
            f"Q {px(x0)},{py(y1)} {px(x0)},{py(y1 - r)} L {px(x0)},{py(y0 + r)} "
            f"Q {px(x0)},{py(y0)} {px(x0 + r)},{py(y0)} Z")


def legend_entry(cx, cy, color, name):
    fig.add_shape(type="circle", xref="paper", yref="paper", fillcolor=color,
                  line_width=0, x0=px(cx - 6.8), x1=px(cx + 6.8),
                  y0=py(cy + 6.8), y1=py(cy - 6.8))
    fig.add_annotation(text=name, xref="paper", yref="paper", x=px(cx + 11), y=py(cy),
                       xanchor="left", yanchor="middle", showarrow=False,
                       font=dict(size=11, color="#333333"))


# legends under the power and the battery chart
legend_entry(442, 675, BLUE, EXT_NAME)
legend_entry(615, 675, YELLOW, PV_NAME)
legend_entry(535, 1045, BLUE, BAT_NAME)

# hovered point: dashed cursor line and tooltip
ext_at = dict(ext_power)[HOVER]
pv_at = dict(pv_power)[HOVER]
fig.add_shape(type="line", xref="x4", yref="y4 domain", x0=ts(HOVER), x1=ts(HOVER),
              y0=0, y1=1, line=dict(color="#1ea7e8", width=1, dash="dash"))
for grow, alpha in ((3, 0.035), (2, 0.05), (1, 0.07)):
    fig.add_shape(type="path", xref="paper", yref="paper", line_width=0,
                  fillcolor=f"rgba(0,0,0,{alpha})",
                  path=rounded(270 - grow, 569 - grow + 1, 485 + grow, 636 + grow + 1, 5))
fig.add_shape(type="path", xref="paper", yref="paper", fillcolor="#ffffff",
              line=dict(color="#ececec", width=1), path=rounded(270, 569, 485, 636, 4))
tip_rows = (
    (279, 585.5, None, HOVER_LABEL, "#555555"),
    (294, 601.5, BLUE, f"{EXT_NAME}: {ext_at} W", "#3d3d3d"),
    (294, 617.5, YELLOW, f"{PV_NAME}: {pv_at} W", "#3d3d3d"),
)
for x, y, color, text, fcolor in tip_rows:
    if color:
        fig.add_shape(type="circle", xref="paper", yref="paper", fillcolor=color,
                      line_width=0, x0=px(x - 15), x1=px(x - 6), y0=py(y + 4.5),
                      y1=py(y - 4.5))
    fig.add_annotation(text=text, xref="paper", yref="paper", x=px(x), y=py(y),
                       xanchor="left", yanchor="middle", showarrow=False,
                       font=dict(size=11, color=fcolor))

fig.write_html("out.html", config={"displayModeBar": False},
               post_script="document.body.style.margin='0';document.body.style.overflow='hidden';")
